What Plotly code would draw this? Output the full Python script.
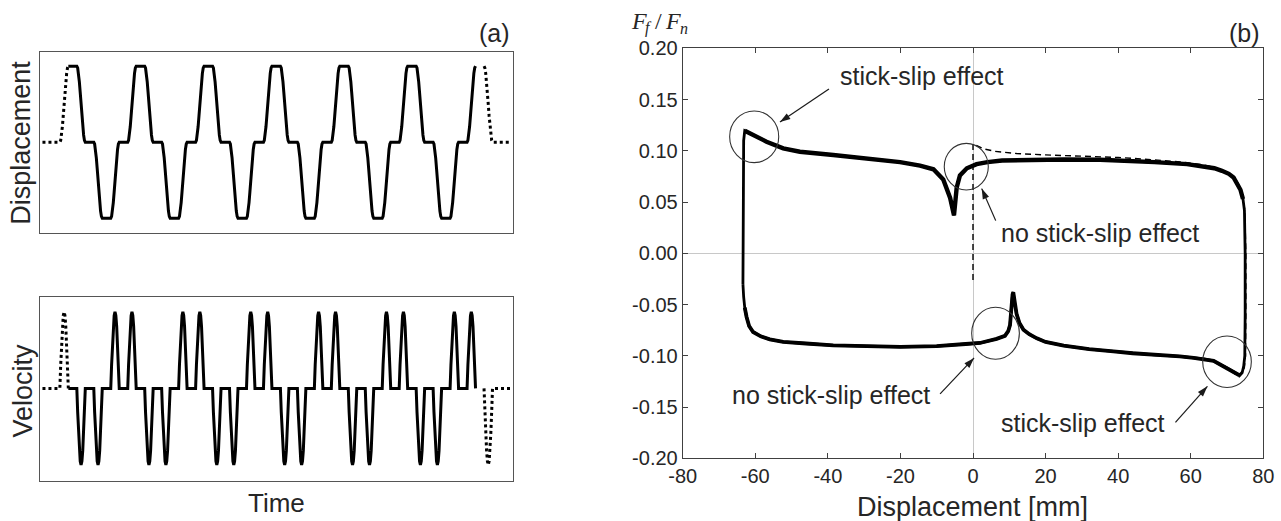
import math
import numpy as np
import plotly.graph_objects as go

W, H = 1281, 521

# ---------------------------------------------------------------- (a) motion programme
# Segment boundaries (one segment = one ramp or one dwell) and the displacement
# level held at each boundary: top = 1, centre = 0, bottom = -1.
CYCLE_LEVELS = [1, 1, 0, 0, -1, -1, 0, 0]
N_CYCLES = 6
MAIN_TIMES = list(range(0, 8 * N_CYCLES + 1))
MAIN_LEVELS = CYCLE_LEVELS * N_CYCLES + [1]

LEAD_IN_TIMES = [-3.05, -1.0, 0.0]
LEAD_IN_LEVELS = [0, 0, 1]
LEAD_OUT_TIMES = [49.0, 50.0, 52.1]
LEAD_OUT_LEVELS = [1, 0, 0]

# Shape of one ramp (fraction of the step completed) and of the matching velocity
# pulse, at eleven equally spaced instants across a segment.
RAMP_SHAPE = [0.0, 0.024, 0.095, 0.206, 0.345, 0.5, 0.655, 0.794, 0.905, 0.976, 1.0]
PULSE_SHAPE = [0.0, 0.309, 0.588, 0.809, 0.951, 1.0, 0.951, 0.809, 0.588, 0.309, 0.0]

# ---------------------------------------------------------------- (b) friction loop
# steady cycles: up the left edge, along the top (moving right), down the right
# edge, back along the bottom (moving left)
LOOP_X = [-63.4, -63.4, -63.3, -63.2, -62.9, -60.6, -56.9, -52.3, -47.7, -38.5,
          -29.3, -20.1, -14.6, -10.9, -8.2, -6.3, -5.24, -4.9, -4.5, -3.6,
          -1.7, 1.0, 4.0, 8.0, 15.0, 25.0, 35.0, 41.0, 50.0, 59.0,
          63.5, 66.5, 68.6, 70.5, 71.8, 72.9, 73.7, 74.4, 74.8, 75.0,
          75.0, 74.9, 74.6, 74.2, 73.4,
          72.0, 70.0, 68.1, 66.3, 63.5, 60.8, 57.0, 50.0, 44.0, 38.7,
          32.0, 25.0, 20.0, 17.6, 15.5, 13.9, 12.8, 12.0, 11.4, 11.1,
          10.9, 10.6, 10.2, 9.7, 8.8, 6.5, 4.0, 1.9, -2.0, -10.0,
          -20.0, -30.0, -38.5, -46.0, -52.3, -56.0, -58.5, -60.6, -61.7, -62.4,
          -62.9, -63.2, -63.4]
LOOP_Y = [-0.030, 0.000, 0.060, 0.110, 0.1196, 0.1154, 0.1089, 0.1024, 0.0991, 0.0959,
          0.0927, 0.0890, 0.0855, 0.0820, 0.0720, 0.0540, 0.0370, 0.0500, 0.0640, 0.0760,
          0.0830, 0.0870, 0.0890, 0.0905, 0.0912, 0.0915, 0.0912, 0.0905, 0.0890, 0.0870,
          0.0850, 0.0830, 0.0805, 0.0775, 0.0740, 0.0680, 0.0620, 0.0530, 0.0420, 0.0000,
          -0.0600, -0.1000, -0.1100, -0.1160, -0.1190,
          -0.1160, -0.1120, -0.1085, -0.1050, -0.1030, -0.1020, -0.1005, -0.0990, -0.0975, -0.0956,
          -0.0935, -0.0900, -0.0865, -0.0830, -0.0790, -0.0745, -0.0680, -0.0590, -0.0470, -0.0380,
          -0.0400, -0.0550, -0.0700, -0.0760, -0.0805, -0.0835, -0.0858, -0.0875, -0.0885, -0.0905,
          -0.0912, -0.0905, -0.0898, -0.0880, -0.0865, -0.0840, -0.0810, -0.0768, -0.0710, -0.0621,
          -0.0530, -0.0426, -0.0300]

# first cycle, starting from the centre position
FIRST_X = [0.0, 0.0, 0.8, 2.8, 6.0, 12.0, 20.0, 30.4, 40.0, 50.0,
           59.0, 63.5, 66.5, 68.6, 70.5, 71.8, 72.9, 73.7, 74.4, 74.9,
           75.2, 75.2, 75.1, 74.8, 74.3, 73.4, 72.0, 70.0, 68.1, 66.3,
           63.5, 60.8, 57.0, 50.0, 44.0, 38.7, 32.0, 25.0, 20.0]
FIRST_Y = [-0.026, 0.107, 0.1055, 0.1020, 0.0995, 0.0973, 0.0960, 0.0946, 0.0935, 0.0912,
           0.0885, 0.0862, 0.0838, 0.0808, 0.0778, 0.0742, 0.0682, 0.0622, 0.0532, 0.0420,
           0.0000, -0.0600, -0.1000, -0.1110, -0.1170, -0.1205, -0.1170, -0.1125, -0.1090, -0.1055,
           -0.1035, -0.1024, -0.1010, -0.0993, -0.0978, -0.0958, -0.0937, -0.0902, -0.0867]

X_TICKS = [-80, -60, -40, -20, 0, 20, 40, 60, 80]
X_TICK_TEXT = ["-80", "-60", "-40", "-20", "0", "20", "40", "60", "80"]
Y_TICKS = [-0.20, -0.15, -0.10, -0.05, 0.00, 0.05, 0.10, 0.15, 0.20]
Y_TICK_TEXT = ["-0.20", "-0.15", "-0.10", "-0.05", "0.00", "0.05", "0.10", "0.15", "0.20"]

# highlighted regions: (centre x, centre y, half-width, half-height) in data units
HIGHLIGHTS = [(-60.3, 0.1137, 6.76, 0.0252),
              (-1.85, 0.0845, 6.07, 0.0227),
              (6.21, -0.0780, 6.57, 0.0254),
              (70.0, -0.1058, 6.70, 0.0251)]

# callouts: text, text centre (data), arrow head (data), arrow tail offset (px, +x right, +y down)
CALLOUTS = [("stick-slip effect", (-14.1, 0.1727), (-53.2, 0.128), (49, -33)),
            ("no stick-slip effect", (35.0, 0.0195), (2.4, 0.0631), (14, 32)),
            ("no stick-slip effect", (-39.0, -0.1385), (0.3, -0.1021), (-34, 36)),
            ("stick-slip effect", (30.4, -0.166), (64.6, -0.1298), (-32, 36))]


def build_motion(times, levels):
    """Join ramps and dwells between successive boundaries."""
    frac = np.linspace(0.0, 1.0, len(RAMP_SHAPE))
    ramp = np.array(RAMP_SHAPE)
    pulse = np.array(PULSE_SHAPE)
    ts, ds, vs = [], [], []
    for i in range(len(times) - 1):
        t0, t1 = times[i], times[i + 1]
        l0, l1 = levels[i], levels[i + 1]
        tt = t0 + (t1 - t0) * frac
        dd = l0 + (l1 - l0) * ramp
        vv = (l1 - l0) / (t1 - t0) * pulse
        start = 0 if i == 0 else 1
        ts.extend(tt[start:])
        ds.extend(dd[start:])
        vs.extend(vv[start:])
    return ts, ds, vs


main_t, main_d, main_v = build_motion(MAIN_TIMES, MAIN_LEVELS)
in_t, in_d, in_v = build_motion(LEAD_IN_TIMES, LEAD_IN_LEVELS)
out_t, out_d, out_v = build_motion(LEAD_OUT_TIMES, LEAD_OUT_LEVELS)

TEXT = "#262626"
AXC = "#404040"
FONT = "Liberation Sans, Arial, sans-serif"
SERIF = "Liberation Serif, DejaVu Serif, serif"


def px_x(p):
    return p / W


def px_y(p):
    return 1 - p / H


# geometry of panel (b)
B_LEFT, B_RIGHT, B_TOP, B_BOTTOM = 682.7, 1263.3, 48.3, 458.3
B_XRANGE, B_YRANGE = [-80, 80], [-0.2, 0.2]
PX_PER_X = (B_RIGHT - B_LEFT) / (B_XRANGE[1] - B_XRANGE[0])
PX_PER_Y = (B_BOTTOM - B_TOP) / (B_YRANGE[1] - B_YRANGE[0])

fig = go.Figure()

solid = dict(color="black", width=3)
dotted = dict(color="black", width=3, dash="dot")

fig.add_trace(go.Scatter(x=in_t, y=in_d, mode="lines", line=dotted, xaxis="x", yaxis="y"))
fig.add_trace(go.Scatter(x=main_t, y=main_d, mode="lines", line=solid, xaxis="x", yaxis="y"))
fig.add_trace(go.Scatter(x=out_t, y=out_d, mode="lines", line=dotted, xaxis="x", yaxis="y"))

fig.add_trace(go.Scatter(x=in_t, y=in_v, mode="lines", line=dotted, xaxis="x2", yaxis="y2"))
fig.add_trace(go.Scatter(x=main_t, y=main_v, mode="lines", line=solid, xaxis="x2", yaxis="y2"))
fig.add_trace(go.Scatter(x=out_t, y=out_v, mode="lines", line=dotted, xaxis="x2", yaxis="y2"))

# the steady loop: the reversal edges come out thinner than the sliding branches,
# where several cycles lie on top of each other
fig.add_trace(go.Scatter(x=LOOP_X, y=LOOP_Y, mode="lines",
                         line=dict(color="black", width=2.8), xaxis="x3", yaxis="y3"))
fig.add_trace(go.Scatter(x=LOOP_X[4:38], y=LOOP_Y[4:38], mode="lines",
                         line=dict(color="black", width=4.4), xaxis="x3", yaxis="y3"))
fig.add_trace(go.Scatter(x=LOOP_X[44:86], y=LOOP_Y[44:86], mode="lines",
                         line=dict(color="black", width=3.8), xaxis="x3", yaxis="y3"))
fig.add_trace(go.Scatter(x=FIRST_X, y=FIRST_Y, mode="lines",
                         line=dict(color="black", width=1.4, dash="6px,4px"),
                         xaxis="x3", yaxis="y3"))

# callout arrows: a thin shaft from the tail, and a head turned along the shaft
head_x, head_y, head_angle = [], [], []
for _, _, (hx, hy), (ax, ay) in CALLOUTS:
    tx = hx + ax / PX_PER_X
    ty = hy - ay / PX_PER_Y
    fig.add_trace(go.Scatter(x=[tx, hx], y=[ty, hy], mode="lines",
                             line=dict(color="#1a1a1a", width=1.2),
                             xaxis="x3", yaxis="y3", hoverinfo="skip"))
    head_x.append(hx)
    head_y.append(hy)
    # screen direction tail -> head, measured clockwise from straight up
    head_angle.append(math.degrees(math.atan2(-ax, ay)))
fig.add_trace(go.Scatter(x=head_x, y=head_y, mode="markers",
                         marker=dict(symbol="arrow", size=11, angle=head_angle,
                                     color="#1a1a1a", line=dict(width=0)),
                         xaxis="x3", yaxis="y3", hoverinfo="skip"))

box_axis = dict(showline=True, mirror=True, linecolor="#555555", linewidth=1,
                showticklabels=False, ticks="", showgrid=False, zeroline=False,
                fixedrange=True)

left_dom = [px_x(40), px_x(512.7)]
t_range = [-3.34, 52.38]

fig.update_layout(
    width=W, height=H,
    margin=dict(l=0, r=0, t=0, b=0, autoexpand=False),
    paper_bgcolor="white", plot_bgcolor="white",
    showlegend=False,
    font=dict(family=FONT, color=TEXT),
    xaxis=dict(domain=left_dom, range=t_range, anchor="y", **box_axis),
    yaxis=dict(domain=[px_y(232.7), px_y(51.7)], range=[-1.19, 1.19], anchor="x", **box_axis),
    xaxis2=dict(domain=left_dom, range=t_range, anchor="y2", **box_axis),
    yaxis2=dict(domain=[px_y(480.7), px_y(297.3)], range=[-1.205, 1.19], anchor="x2", **box_axis),
    xaxis3=dict(domain=[px_x(B_LEFT), px_x(B_RIGHT)], range=B_XRANGE, anchor="y3",
                tickvals=X_TICKS, ticktext=X_TICK_TEXT,
                ticks="inside", ticklen=5, tickcolor=AXC, tickwidth=1,
                showline=True, mirror="ticks", linecolor=AXC, linewidth=1,
                showgrid=False, zeroline=True, zerolinecolor="#c8c8c8", zerolinewidth=1.3,
                tickfont=dict(size=20, color=TEXT), fixedrange=True, automargin=False),
    yaxis3=dict(domain=[px_y(B_BOTTOM), px_y(B_TOP)], range=B_YRANGE, anchor="x3",
                tickvals=Y_TICKS, ticktext=Y_TICK_TEXT,
                ticks="inside", ticklen=5, tickcolor=AXC, tickwidth=1,
                showline=True, mirror="ticks", linecolor=AXC, linewidth=1,
                showgrid=False, zeroline=True, zerolinecolor="#c8c8c8", zerolinewidth=1.3,
                tickfont=dict(size=20, color=TEXT), fixedrange=True, automargin=False),
)

shapes = []
for cx, cy, rx, ry in HIGHLIGHTS:
    shapes.append(dict(type="circle", xref="x3", yref="y3",
                       x0=cx - rx, x1=cx + rx, y0=cy - ry, y1=cy + ry,
                       line=dict(color="#333333", width=1.1)))
fig.update_layout(shapes=shapes)

ann = []
for text, (tx, ty), _, _ in CALLOUTS:
    ann.append(dict(x=tx, y=ty, xref="x3", yref="y3", text=text, showarrow=False,
                    xanchor="center", yanchor="middle",
                    font=dict(size=25, family=FONT, color=TEXT)))

labels = [
    dict(text="Displacement", x=px_x(21.5), y=px_y(143.3), textangle=-90, size=27),
    dict(text="Velocity", x=px_x(22.5), y=px_y(391), textangle=-90, size=27),
    dict(text="Time", x=px_x(276.3), y=px_y(503), textangle=0, size=26),
    dict(text="Displacement [mm]", x=px_x(973), y=px_y(507), textangle=0, size=27),
]
for lab in labels:
    ann.append(dict(x=lab["x"], y=lab["y"], xref="paper", yref="paper", text=lab["text"],
                    textangle=lab["textangle"], showarrow=False,
                    xanchor="center", yanchor="middle",
                    font=dict(size=lab["size"], family=FONT, color=TEXT)))

for tag, right in (("(a)", 512), ("(b)", 1262)):
    ann.append(dict(x=px_x(right), y=px_y(33), xref="paper", yref="paper", text=tag,
                    showarrow=False, xanchor="right", yanchor="middle",
                    font=dict(size=25, family=FONT, color=TEXT)))

# y-axis quantity of panel (b), F_f / F_n, set piece by piece (italic, lowered indices)
for piece, left, mid, size in (("<i>F</i>", 629, 21, 24), ("<i>f</i>", 643, 28.5, 16),
                               ("/", 653, 21, 24), ("<i>F</i>", 663, 21, 24),
                               ("<i>n</i>", 678, 28.5, 16)):
    ann.append(dict(x=px_x(left), y=px_y(mid), xref="paper", yref="paper", text=piece,
                    showarrow=False, xanchor="left", yanchor="middle",
                    font=dict(size=size, family=SERIF, color=TEXT)))

fig.update_layout(annotations=ann)

fig.write_html("out.html")
